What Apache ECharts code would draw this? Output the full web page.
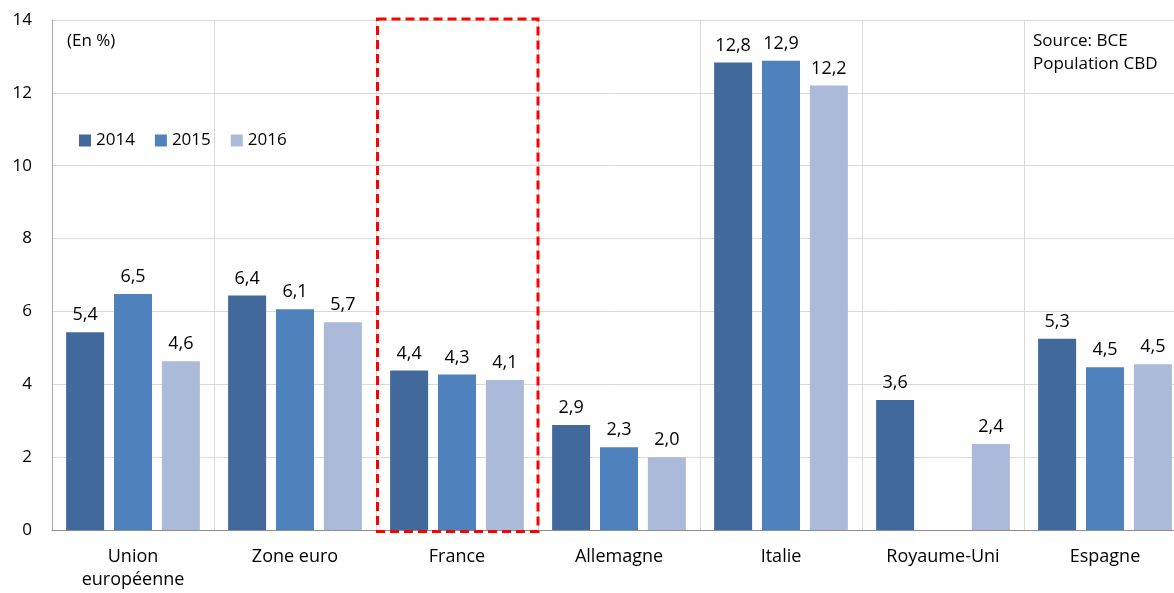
<!DOCTYPE html>
<html>
<head>
<meta charset="utf-8">
<script src="https://cdn.jsdelivr.net/npm/echarts@6/dist/echarts.min.js"></script>
<style>
  html, body { margin: 0; padding: 0; background: #ffffff; }
  #chart { width: 1174px; height: 593px; }
</style>
</head>
<body>
<div id="chart"></div>
<script>
// Taux de prêts non performants, en %
const categories = ['Union\neuropéenne', 'Zone euro', 'France', 'Allemagne', 'Italie', 'Royaume-Uni', 'Espagne'];
const years = ['2014', '2015', '2016'];
const values2014 = [5.43, 6.44, 4.38, 2.88, 12.83, 3.57, 5.25];
const values2015 = [6.48, 6.06, 4.27, 2.27, 12.88, null, 4.47];
const values2016 = [4.63, 5.70, 4.12, 2.00, 12.20, 2.36, 4.55];
const colors = ['#41699b', '#4f81bd', '#aabad8'];
const yTicks = { min: 0, max: 14, interval: 2 };
const highlighted = 'France';

const FONT = '"Open Sans", "Noto Sans", sans-serif';

function fmt(v) {
  return v == null ? '' : v.toFixed(1).replace('.', ',');
}

function barSeries(name, data, color) {
  return {
    name: name,
    type: 'bar',
    data: data,
    barWidth: 38,
    barGap: '26%',
    itemStyle: { color: color },
    label: {
      show: true,
      position: 'top',
      distance: 8,
      color: '#000',
      fontFamily: FONT,
      fontSize: 18,
      formatter: p => fmt(p.value)
    }
  };
}

const chart = echarts.init(document.getElementById('chart'), null, { renderer: 'canvas' });

chart.setOption({
  animation: false,
  backgroundColor: '#ffffff',
  textStyle: { fontFamily: FONT },
  grid: { left: 52, top: 20, width: 1134, bottom: 63, containLabel: false, outerBoundsMode: 'none' },
  legend: {
    left: 79,
    top: 132,
    padding: 0,
    itemWidth: 12,
    itemHeight: 12,
    itemGap: 20,
    icon: 'rect',
    textStyle: { fontFamily: FONT, fontSize: 17, color: '#000' },
    data: years
  },
  xAxis: {
    type: 'category',
    data: categories,
    axisLine: { lineStyle: { color: '#8c8c8c', width: 1 } },
    axisTick: { show: false },
    splitLine: { show: true, lineStyle: { color: '#d9d9d9', width: 1 } },
    axisLabel: {
      color: '#000',
      fontFamily: FONT,
      fontSize: 18,
      lineHeight: 23,
      margin: 15,
      interval: 0
    }
  },
  yAxis: {
    type: 'value',
    min: yTicks.min,
    max: yTicks.max,
    interval: yTicks.interval,
    axisLine: { show: true, lineStyle: { color: '#a6a6a6', width: 1 } },
    axisTick: { show: false },
    splitLine: { show: true, lineStyle: { color: '#d9d9d9', width: 1 } },
    axisLabel: { color: '#000', fontFamily: FONT, fontSize: 17, margin: 20 }
  },
  series: [
    barSeries(years[0], values2014, colors[0]),
    barSeries(years[1], values2015, colors[1]),
    barSeries(years[2], values2016, colors[2])
  ]
});

// Notes and the dashed frame around the highlighted country, placed from the axes
function placeAnnotations() {
  const idx = categories.indexOf(highlighted);
  const cx = chart.convertToPixel({ xAxisIndex: 0 }, idx);
  const band = chart.convertToPixel({ xAxisIndex: 0 }, idx + 1) - cx;
  const yTop = chart.convertToPixel({ yAxisIndex: 0 }, yTicks.max);
  const yBottom = chart.convertToPixel({ yAxisIndex: 0 }, yTicks.min);
  const x0 = cx - band / 2;

  chart.setOption({
    graphic: [
      {
        type: 'text',
        left: 67,
        top: 33,
        style: { text: '(En %)', fontFamily: FONT, fontSize: 17, fill: '#000' }
      },
      {
        type: 'text',
        left: 1033,
        top: 30,
        style: {
          text: 'Source: BCE\nPopulation CBD',
          fontFamily: FONT,
          fontSize: 17,
          lineHeight: 23,
          fill: '#000'
        }
      },
      {
        type: 'rect',
        shape: { x: x0 + 1.5, y: yTop - 1, width: band - 1.5, height: yBottom - yTop + 2.5 },
        style: { fill: 'none', stroke: '#ff0000', lineWidth: 3, lineDash: [9, 5] },
        z: 10
      }
    ]
  });
}
placeAnnotations();
</script>
</body>
</html>
